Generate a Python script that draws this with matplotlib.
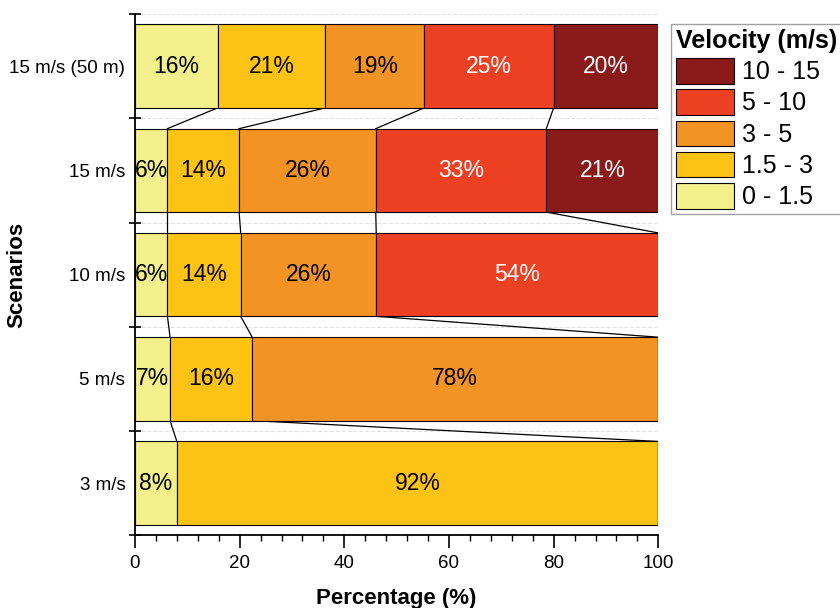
import numpy as np
import matplotlib
matplotlib.use("Agg")
import matplotlib.pyplot as plt
from matplotlib.patches import Patch

plt.rcParams['font.family'] = ['Liberation Sans', 'DejaVu Sans']

# Scenarios, bottom to top
scenarios = ['3 m/s', '5 m/s', '10 m/s', '15 m/s', '15 m/s (50 m)']
classes = ['0 - 1.5', '1.5 - 3', '3 - 5', '5 - 10', '10 - 15']
colors = ['#F3EF8A', '#FDC314', '#F29323', '#EE4124', '#8B1A1A']
text_colors = ['black', 'black', 'black', 'white', 'white']

# Share of each velocity class (%) per scenario
v_0_15 = [8.0, 6.7, 6.2, 6.2, 15.8]
v_15_3 = [92.0, 15.7, 14.0, 13.7, 20.6]
v_3_5 = [0.0, 77.6, 25.9, 26.1, 18.9]
v_5_10 = [0.0, 0.0, 53.9, 32.6, 24.7]
v_10_15 = [0.0, 0.0, 0.0, 21.4, 20.0]

data = np.array([v_0_15, v_15_3, v_3_5, v_5_10, v_10_15])  # classes x scenarios
cum = np.cumsum(data, axis=0)
y = np.arange(len(scenarios))
h = 0.8

fig = plt.figure(figsize=(8.4, 6.08), dpi=100)
ax = fig.add_axes([0.1607, 0.1196, 0.6230, 0.8574])

for k in range(len(classes)):
    left = cum[k] - data[k]
    ax.barh(y, data[k], left=left, height=h, color=colors[k],
            edgecolor='black', linewidth=0.8, zorder=3)
    for i in range(len(scenarios)):
        if data[k, i] > 0:
            ax.text(left[i] + data[k, i] / 2, y[i], f"{data[k, i]:.0f}%",
                    ha='center', va='center', fontsize=16.5,
                    color=text_colors[k], zorder=4)

# connector lines between neighbouring bars
for i in range(len(scenarios) - 1):
    for k in range(len(classes)):
        x0, x1 = cum[k, i], cum[k, i + 1]
        if x0 >= 99.95 and x1 >= 99.95:
            continue
        ax.plot([x0, x1], [y[i] + h / 2, y[i + 1] - h / 2],
                color='black', linewidth=0.9, zorder=2)

ax.set_xlim(0, 100)
ax.set_ylim(-0.5, 4.5)
ax.set_xticks(np.arange(0, 101, 20))
ax.set_xticks(np.arange(0, 101, 4), minor=True)
ax.set_yticks(y)
ax.set_yticklabels(scenarios)
ax.set_yticks(np.arange(-0.5, 4.6, 1), minor=True)
ax.tick_params(axis='x', which='major', direction='out', length=9, width=1.2,
               labelsize=13.5, pad=5)
ax.tick_params(axis='x', which='minor', direction='out', length=4.5, width=1.0)
ax.tick_params(axis='y', which='major', length=0, labelsize=13.5, pad=7)
ax.tick_params(axis='y', which='minor', direction='inout', length=9, width=1.2)

ax.grid(axis='y', which='minor', color='#e2e2e2', linestyle='--', linewidth=0.8,
        zorder=0)

for s in ['top', 'right']:
    ax.spines[s].set_visible(False)
for s in ['left', 'bottom']:
    ax.spines[s].set_linewidth(1.3)

ax.set_xlabel('Percentage (%)', fontsize=16, fontweight='bold', labelpad=12)
ax.set_ylabel('Scenarios', fontsize=16, fontweight='bold')
ax.yaxis.set_label_coords(-0.205, 0.5)

handles = [Patch(facecolor=colors[k], edgecolor='black', linewidth=0.8,
                 label=classes[k]) for k in reversed(range(len(classes)))]
leg = fig.legend(handles=handles, title='Velocity (m/s)', loc='upper left',
                 bbox_to_anchor=(671 / 840, 1 - 24 / 608), fontsize=18,
                 title_fontproperties={'weight': 'bold', 'size': 18},
                 alignment='left', frameon=True, fancybox=False,
                 edgecolor='#888888', handlelength=2.3, handleheight=1.2,
                 labelspacing=0.2, handletextpad=0.35, borderpad=0.2,
                 borderaxespad=0)
leg.get_frame().set_linewidth(1.0)

fig.savefig('out.png', dpi=100)
